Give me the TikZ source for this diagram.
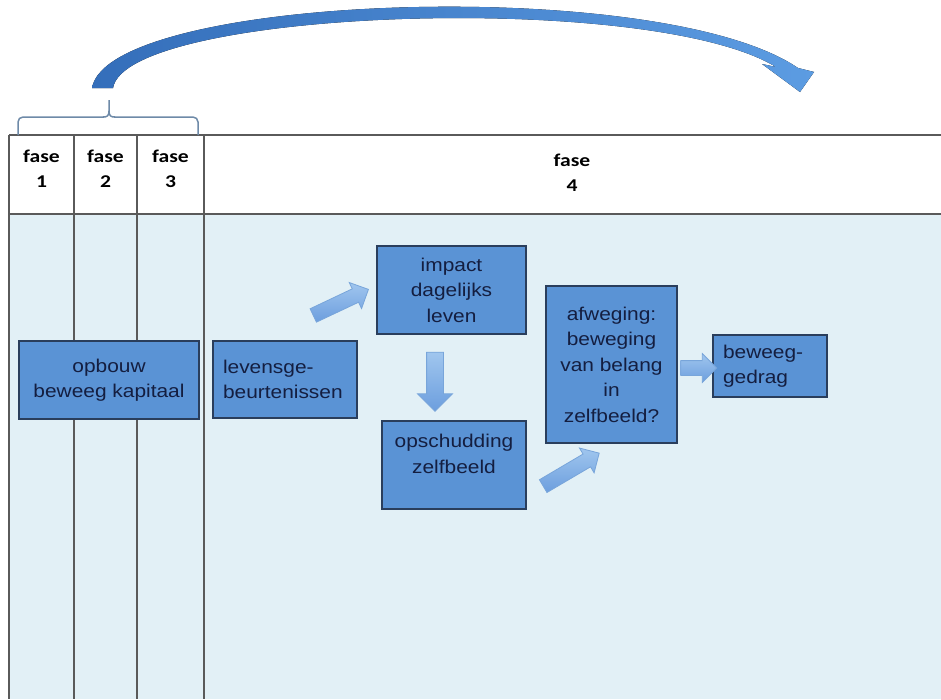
\documentclass[tikz,border=0pt]{standalone}
\usepackage{fontspec}
\setmainfont[FakeStretch=1.13]{Liberation Sans}
\newfontfamily\hdrfont[FakeStretch=1.2]{Carlito}
\usetikzlibrary{shapes.arrows}
\definecolor{bodyfill}{RGB}{226,240,246}
\definecolor{gridline}{RGB}{90,90,90}
\definecolor{boxfill}{RGB}{90,147,213}
\definecolor{boxline}{RGB}{42,62,92}
\definecolor{boxtext}{RGB}{20,30,64}
\definecolor{arrA}{RGB}{160,198,238}
\definecolor{arrB}{RGB}{108,158,222}
\definecolor{arrline}{RGB}{120,165,218}
\definecolor{bigL}{RGB}{52,110,186}
\definecolor{bigR}{RGB}{92,156,226}
\definecolor{bracec}{RGB}{110,138,168}
\begin{document}
\begin{tikzpicture}[x=1pt,y=-1pt,
  gridrule/.style={draw=gridline, line width=1.2pt},
  hdr/.style={align=center, inner sep=0pt, font=\hdrfont\bfseries\fontsize{18}{25}\selectfont},
  box/.style={draw=boxline, line width=1.3pt, fill=boxfill, text=boxtext, align=center, inner sep=0pt,
    font=\fontsize{18.5}{25.5}\selectfont},
  lbox/.style={align=left, inner xsep=10pt},
  txtonly/.style={text=boxtext, align=center, inner sep=0pt, font=\fontsize{18.5}{25.5}\selectfont},
  barrow/.style={single arrow, draw=arrline, line width=0.8pt, top color=arrA, bottom color=arrB,
    inner sep=0pt, inner ysep=7pt, single arrow head extend=7pt, minimum height=#1},
  brace/.style={draw=bracec, line width=1.5pt, rounded corners=5pt}
]
\useasboundingbox (0,0) rectangle (941,699);
\fill[white] (0,0) rectangle (941,699);
\fill[bodyfill] (9,214) rectangle (941,699);
% table rules
\draw[gridrule] (9,135) -- (941,135);
\draw[gridrule] (9,214) -- (941,214);
\draw[gridrule] (9,135) -- (9,699);
\draw[gridrule] (74,135) -- (74,699);
\draw[gridrule] (137,135) -- (137,699);
\draw[gridrule] (204,135) -- (204,699);
% header texts
\node[hdr] (f1) at (41.5,169) {fase\\1};
\node[hdr] (f2) at (105.5,169) {fase\\2};
\node[hdr] (f3) at (170.5,169) {fase\\3};
\node[hdr] (f4) at (572,173) {fase\\4};
% brace
\coordinate (bracetip) at (109,100);
\draw[brace] (18,135) -- (18,117) -- (104,117);
\draw[brace] (114,117) -- (198,117) -- (198,135);
\draw[draw=bracec, line width=1.5pt] (103,117) .. controls (107,117) and (109,116) .. (109,111) -- (bracetip);
\draw[draw=bracec, line width=1.5pt] (115,117) .. controls (111,117) and (109,116) .. (109,111);
% big curved arrow
\fill[left color=bigL, right color=bigR]
  (92,88) .. controls (108,-6) and (660,-26) .. (798,68)
  -- (814,72) -- (800,92) -- (762,64) -- (776,67)
  .. controls (650,-10) and (126,9) .. (113,88) -- cycle;
% boxes
\node[box, minimum width=180, minimum height=78] (opb) at (109,380) {opbouw\\beweeg kapitaal};
\node[box, lbox, minimum height=77, text width=124] (lev) at (285,379.5) {levensge-\\beurtenissen};
\node[box, minimum width=149, minimum height=88] (imp) at (451.5,290) {impact\\dagelijks\\leven};
\node[box, minimum width=144, minimum height=88] (ops) at (454,465) {};
\node[txtonly] (opst) at (454,454) {opschudding\\zelfbeeld};
\node[box, minimum width=131, minimum height=157] (afw) at (611.5,364.5) {afweging:\\beweging\\van belang\\in\\zelfbeeld?};
\node[box, lbox, minimum height=62, text width=94] (bew) at (770,366) {beweeg-\\gedrag};
% block arrows
\node[barrow=61, rotate=25.3] (a1) at (337.5,304) {};
\node[barrow=59, rotate=-90, inner ysep=8pt, single arrow head extend=9pt] (a2) at (435,377.5) {};
\node[barrow=65, rotate=30.5] (a3) at (568,471.5) {};
\node[barrow=36] (a4) at (695,368) {};
\end{tikzpicture}
\end{document}
